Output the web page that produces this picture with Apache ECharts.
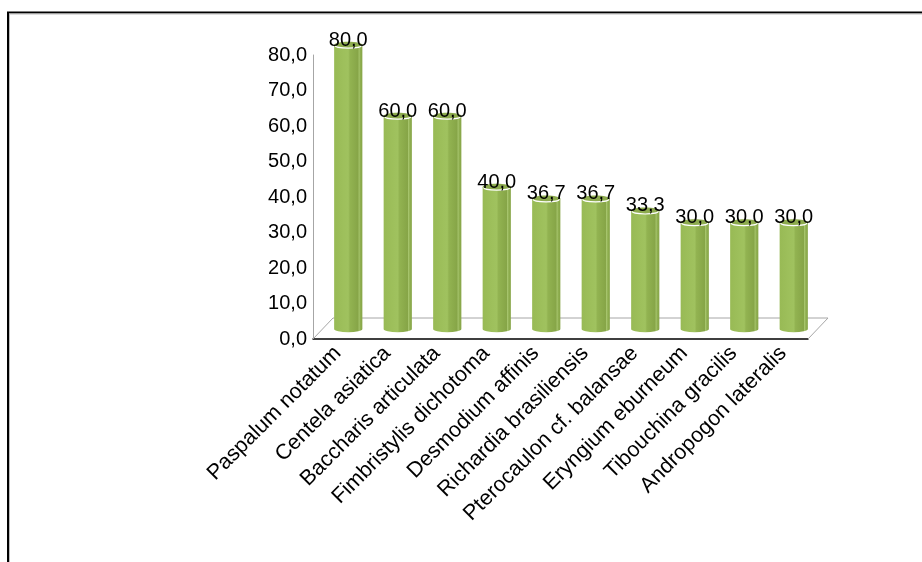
<!DOCTYPE html>
<html>
<head>
<meta charset="utf-8">
<script src="https://cdn.jsdelivr.net/npm/echarts@6/dist/echarts.min.js"></script>
<style>
html,body{margin:0;padding:0;background:#fff;}
#chart{width:922px;height:562px;}
</style>
</head>
<body>
<div id="chart"></div>
<script>
var categories = ["Paspalum notatum","Centela asiatica","Baccharis articulata","Fimbristylis dichotoma","Desmodium affinis","Richardia brasiliensis","Pterocaulon cf. balansae","Eryngium eburneum","Tibouchina gracilis","Andropogon lateralis"];
var values = [80.0, 60.0, 60.0, 40.0, 36.7, 36.7, 33.3, 30.0, 30.0, 30.0];
var yTicks = [0, 10, 20, 30, 40, 50, 60, 70, 80];

function fmt(v){ return v.toFixed(1).replace('.', ','); }

var DX = 10.5, DY = -10;   // depth offset of bars (mid-depth of floor)
var chart = echarts.init(document.getElementById('chart'));

var bodyGrad = new echarts.graphic.LinearGradient(0,0,1,0,[
  {offset:0, color:'#98ba55'},
  {offset:0.35, color:'#9ec05c'},
  {offset:0.5, color:'#a0c25f'},
  {offset:0.56, color:'#92b351'},
  {offset:0.85, color:'#86a547'},
  {offset:0.88, color:'#a6c46c'},
  {offset:0.93, color:'#8faf50'},
  {offset:1, color:'#86a447'}
]);

chart.setOption({
  animation:false,
  backgroundColor:'#fff',
  grid:{left:313, right:114, top:55, bottom:223},
  xAxis:{
    type:'category', data:categories,
    axisLine:{show:true, lineStyle:{color:'#000', width:1.5}},
    axisTick:{show:false},
    axisLabel:{rotate:45, margin:11, color:'#000', fontSize:21.5, fontFamily:'Liberation Sans, Arial, sans-serif', interval:0}
  },
  yAxis:{
    type:'value', min:0, max:80, interval:10,
    axisLine:{show:true, lineStyle:{color:'#a6a6a6', width:1}},
    axisTick:{show:false},
    splitLine:{show:false},
    axisLabel:{color:'#000', fontSize:20, margin:6, fontFamily:'Liberation Sans, Arial, sans-serif',
      formatter:function(v){ return yTicks.indexOf(v) >= 0 ? fmt(v) : ''; }}
  },
  graphic:[
    {type:'line', shape:{x1:7, y1:12.5, x2:922, y2:12.5}, style:{stroke:'#000', lineWidth:2}},
    {type:'line', shape:{x1:9, y1:14, x2:922, y2:14}, style:{stroke:'#bdbdbd', lineWidth:1}},
    {type:'line', shape:{x1:8, y1:12, x2:8, y2:562}, style:{stroke:'#000', lineWidth:2}},
    {type:'line', shape:{x1:9.5, y1:14, x2:9.5, y2:562}, style:{stroke:'#bdbdbd', lineWidth:1}}
  ],
  series:[
    {
      type:'custom', z:1,
      data:[[0,0]],
      renderItem:function(params, api){
        var band = api.size([1,0])[0];
        var p0 = api.coord([0,0]);
        var pN = api.coord([categories.length-1,0]);
        var xl = p0[0]-band/2, xr = pN[0]+band/2, y = p0[1];
        var dx = 2*DX - 1, dy = 2*DY - 1;
        var st = {stroke:'#a6a6a6', lineWidth:1, fill:null};
        return {type:'group', children:[
          {type:'line', shape:{x1:xl, y1:y, x2:xl+dx, y2:y+dy}, style:st},
          {type:'line', shape:{x1:xl+dx, y1:y+dy, x2:xr+dx, y2:y+dy}, style:st},
          {type:'line', shape:{x1:xr, y1:y, x2:xr+dx, y2:y+dy}, style:st}
        ]};
      }
    },
    {
      type:'custom', z:3,
      data:values.map(function(v,i){ return [i, v]; }),
      renderItem:function(params, api){
        var i = api.value(0), v = api.value(1);
        var band = api.size([1,0])[0];
        var w = band*0.57, rx = w/2, ry = 3.2;
        var top = api.coord([i, v]), base = api.coord([i, 0]);
        var cx = top[0] + DX, ty = top[1] + DY, by = base[1] + DY;
        var l = cx - rx, r = cx + rx;
        var bodyPath = 'M'+l+' '+ty+' L'+l+' '+by+' A'+rx+' '+ry+' 0 0 0 '+r+' '+by+' L'+r+' '+ty+' Z';
        var rimPath = 'M'+(l+1)+' '+(ty+0.5)+' A'+(rx-1)+' '+(ry-0.5)+' 0 0 0 '+(r-1)+' '+(ty+0.5);
        return {type:'group', children:[
          {type:'path', shape:{pathData:bodyPath}, style:{fill:bodyGrad}},
          {type:'ellipse', shape:{cx:cx, cy:ty, rx:rx, ry:ry}, style:{fill:'#8dab4e'}},
          {type:'path', shape:{pathData:rimPath}, style:{fill:null, stroke:'#ffffff', lineWidth:1.2}},
          {type:'text', style:{text:fmt(v), x:cx, y:ty-5, align:'center', verticalAlign:'middle',
            fill:'#000', fontSize:20, fontFamily:'Liberation Sans, Arial, sans-serif'}, z2:10}
        ]};
      }
    }
  ]
});
</script>
</body>
</html>
